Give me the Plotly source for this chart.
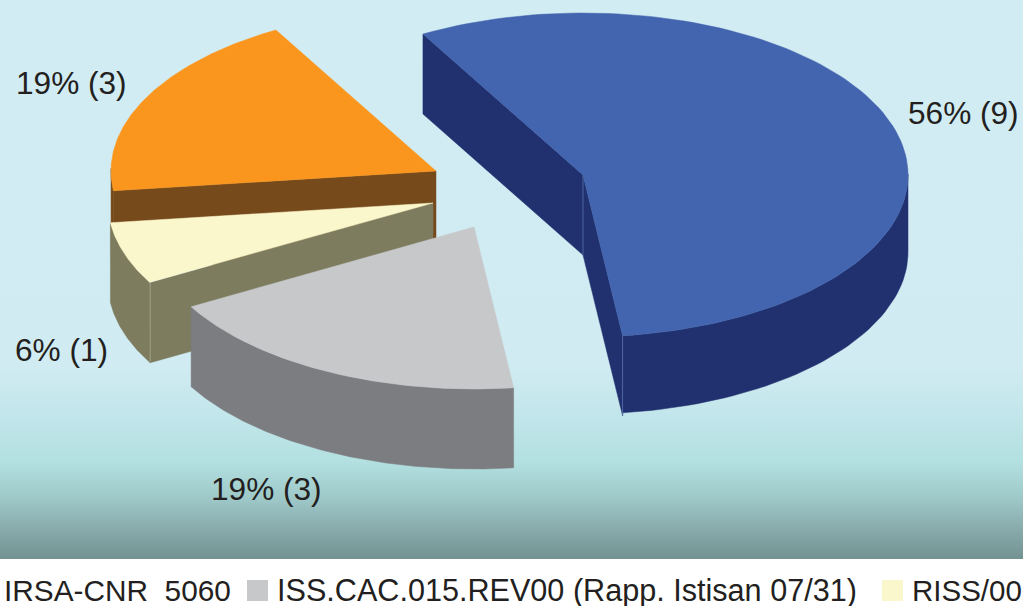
import numpy as np
import plotly.graph_objects as go

# --- data ---
names = ["IRSA-CNR  5060", "ISS.CAC.015.REV00 (Rapp. Istisan 07/31)", "RISS/00", ""]
counts = [9, 3, 1, 3]
top_colors = ["#4364ae", "#c7c8ca", "#fbf7cd", "#fa961e"]
side_colors = ["#21316f", "#7c7d81", "#7d7c5f", "#774a1c"]
seam_colors = ["#5a74b0", "#9a9b9e", "#a9a88c", "#a88a60"]

# --- projection / layout ---
START = -29.5
A, B, DEPTH = 325, 162, 80
centers = [(583, 175), (474, 227), (433, 203), (436, 171)]
label_pos = [(908, 113), (211, 489), (15, 350), (16, 83)]
legend_pos = [4, 277, 912]
legend_sizes = [29.8, 30.6, 29.5]
FONT = "Liberation Sans"
FS = 31.6
TXT = "#231f20"

fig = go.Figure()
# Background gradient
fig.add_trace(go.Scatter(
    x=[0, 1023, 1023, 0, 0], y=[0, 0, 559, 559, 0], mode="lines", line=dict(width=0),
    fill="toself", hoverinfo="skip", showlegend=False,
    fillgradient=dict(type="vertical", start=0, stop=559, colorscale=[
        [0, "#d2ecf3"], [0.66, "#d0ebf2"], [0.74, "#c2e6eb"], [0.825, "#b3e0e1"],
        [0.89, "#9fc9c9"], [0.95, "#87a9aa"], [1, "#739292"]])))

def poly(xs, ys, color):
    fig.add_trace(go.Scatter(x=list(xs) + [xs[0]], y=list(ys) + [ys[0]], mode="lines",
                             line=dict(width=0.5, color=color), fill="toself", fillcolor=color,
                             hoverinfo="skip", showlegend=False))

def seam(x, y0, y1, color):
    fig.add_trace(go.Scatter(x=[x, x], y=[y0, y1], mode="lines", line=dict(width=0.8, color=color),
                             hoverinfo="skip", showlegend=False))

total = sum(counts)
spans = [c / total * 360 for c in counts]
starts = START + np.concatenate([[0], np.cumsum(spans)[:-1]])

def pt(c, deg):
    t = np.radians(deg)
    return c[0] + A * np.sin(t), c[1] - B * np.cos(t)

# back-to-front painting order: orange, yellow, grey, blue
for i in [3, 2, 1, 0]:
    c, s, e = centers[i], starts[i], starts[i] + spans[i]
    th = np.linspace(s, e, 120)
    ax, ay = pt(c, th)
    side, top = side_colors[i], top_colors[i]
    # outer wall, only the near half of the rim
    keep = np.cos(np.radians(th)) <= 0.02
    if keep.any():
        wx, wy = ax[keep], ay[keep]
        poly(np.r_[wx, wx[::-1]], np.r_[wy, wy[::-1] + DEPTH - (3 if i == 0 else 0)], side)
    # cut faces, only those turned towards the viewer
    if np.sin(np.radians(s)) < 0:
        poly([c[0], ax[0], ax[0], c[0]], [c[1], ay[0], ay[0] + DEPTH, c[1] + DEPTH], side)
    if np.sin(np.radians(e)) > 0:
        poly([c[0], ax[-1], ax[-1], c[0]], [c[1], ay[-1], ay[-1] + DEPTH, c[1] + DEPTH], side)
    # seams at the visible vertical edges
    if i == 0:
        seam(c[0], c[1], c[1] + DEPTH, seam_colors[i])
        seam(ax[-1], ay[-1], ay[-1] + DEPTH, seam_colors[i])
    if i == 2:
        seam(ax[0], ay[0], ay[0] + DEPTH, seam_colors[i])
    # top
    poly(np.r_[c[0], ax], np.r_[c[1], ay], top)

# Legend swatches (the first one is cropped out of the picture)
for x, color in [(257.5, top_colors[1]), (892.5, top_colors[2])]:
    fig.add_trace(go.Scatter(x=[x], y=[590.5], mode="markers",
                             marker=dict(symbol="square", size=21, color=color, line=dict(width=0)),
                             hoverinfo="skip", showlegend=False))

for i in range(4):
    pct = round(counts[i] / total * 100)
    fig.add_annotation(x=label_pos[i][0], y=label_pos[i][1], text=f"{pct}% ({counts[i]})",
                       xanchor="left", yanchor="middle", showarrow=False,
                       xshift=-2, font=dict(family=FONT, size=FS, color=TXT))
for x, nm, sz in zip(legend_pos, names[:3], legend_sizes):
    fig.add_annotation(x=x, y=590, text=nm.replace("  ", "&nbsp;&nbsp;"), xanchor="left", yanchor="middle",
                       showarrow=False, xshift=-2, font=dict(family=FONT, size=sz, color=TXT))

fig.update_layout(
    width=1023, height=606, margin=dict(l=0, r=0, t=0, b=0),
    paper_bgcolor="white", plot_bgcolor="white", showlegend=False,
    xaxis=dict(range=[0, 1023], visible=False, fixedrange=True),
    yaxis=dict(range=[606, 0], visible=False, fixedrange=True))
fig.write_html("out.html", config=dict(displayModeBar=False),
               post_script="document.body.style.margin='0';document.documentElement.style.overflow='hidden';")
